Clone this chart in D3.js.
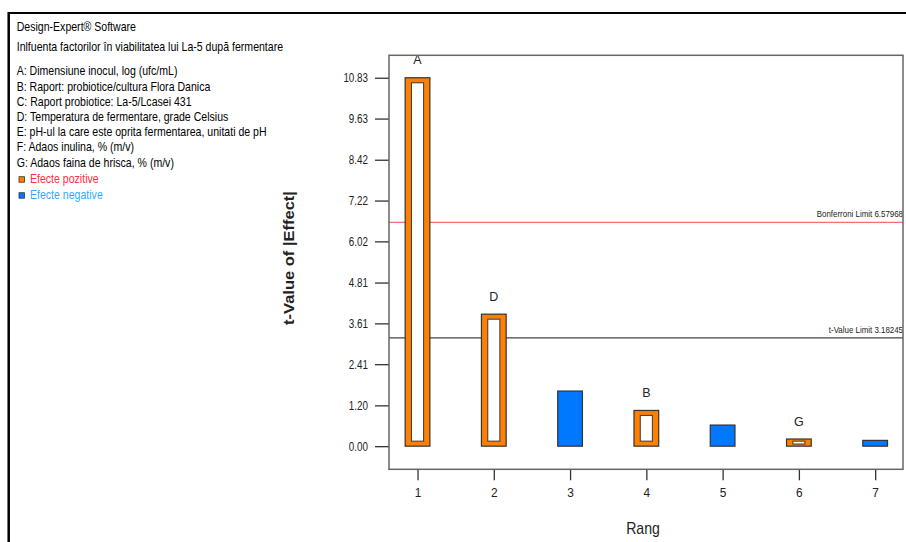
<!DOCTYPE html>
<html><head><meta charset="utf-8">
<script src="https://cdn.jsdelivr.net/npm/d3@7"></script>
<style>body{margin:0;background:#fff}svg{display:block}text{font-family:"Liberation Sans",Arial,sans-serif}</style>
</head><body>
<svg id="c" width="906" height="542"></svg>
<script>
const ranks = [1, 2, 3, 4, 5, 6, 7];
const effects = [10.83, 3.88, 1.62, 1.05, 0.62, 0.21, 0.17];
const signs = ["pos", "pos", "neg", "pos", "neg", "pos", "neg"];
const barLabels = ["A", "D", "", "B", "", "G", ""];
const yTicks = [0, 1.20, 2.41, 3.61, 4.81, 6.02, 7.22, 8.42, 9.63, 10.83];
const limits = [
  {name: "Bonferroni Limit 6.57968", value: 6.57968, color: "#f07070"},
  {name: "t-Value Limit 3.18245", value: 3.18245, color: "#444"}
];
const headerLines = ["Design-Expert® Software", "Inlfuenta factorilor în viabilitatea lui La-5 după fermentare"];
const factorLines = [
  "A: Dimensiune inocul, log (ufc/mL)",
  "B: Raport: probiotice/cultura Flora Danica",
  "C: Raport probiotice: La-5/Lcasei 431",
  "D: Temperatura de fermentare, grade Celsius",
  "E: pH-ul la care este oprita fermentarea, unitati de pH",
  "F: Adaos inulina, % (m/v)",
  "G: Adaos faina de hrisca, % (m/v)"
];
const legendItems = [
  {label: "Efecte pozitive", fill: "#ff8000", color: "#ff2d3d"},
  {label: "Efecte negative", fill: "#0078ff", color: "#33aaff"}
];

const svg = d3.select("#c");
const W = 906, H = 542;
const L = 389, R = 903, T = 55.3, B = 469.3;

// outer frame
svg.append("line").attr("x1", 8).attr("x2", W).attr("y1", 13).attr("y2", 13).attr("stroke", "#000").attr("stroke-width", 2);
svg.append("line").attr("x1", 8.7).attr("x2", 8.7).attr("y1", 12).attr("y2", H).attr("stroke", "#000").attr("stroke-width", 2.5);

// left text
const lt = svg.append("g").attr("transform", "translate(16.7,0) scale(0.88,1)");
lt.selectAll("text.h").data(headerLines).join("text")
  .attr("x", 0).attr("y", (d, i) => 30.7 + i * 20).attr("font-size", 12).attr("fill", "#000").text(d => d);
lt.selectAll("text.f").data(factorLines).join("text")
  .attr("x", 0).attr("y", (d, i) => 75.3 + i * 15.23).attr("font-size", 12).attr("fill", "#000").text(d => d);
const lg = svg.selectAll("g.lg").data(legendItems).join("g")
  .attr("transform", (d, i) => `translate(0,${182.7 + i * 16})`);
lg.append("rect").attr("x", 19).attr("y", -6).attr("width", 5.5).attr("height", 5.5)
  .attr("fill", d => d.fill).attr("stroke", "#333").attr("stroke-width", 0.8);
lg.append("text").attr("transform", "translate(30,0) scale(0.88,1)").attr("font-size", 12)
  .attr("fill", d => d.color).text(d => d.label);

// scales
const x = d3.scaleLinear().domain([0.626, 7.365]).range([L, R]);
const y = d3.scaleLinear().domain([-0.68, 11.49]).range([B, T]);
const bw = 0.324;

// y axis
const ya = svg.append("g").attr("transform", `translate(${L},0)`)
  .call(d3.axisLeft(y).tickValues(yTicks).tickSize(14).tickPadding(7).tickFormat(d => d.toFixed(2)));
ya.select(".domain").remove();
ya.selectAll(".tick line").attr("stroke", "#333").attr("stroke-width", 1.3);
ya.selectAll(".tick text").attr("font-size", 12).attr("fill", "#222")
  .attr("x", -21 / 0.82).attr("transform", "scale(0.82,1)");

// x axis
const xa = svg.append("g").attr("transform", `translate(0,${B})`)
  .call(d3.axisBottom(x).tickValues(ranks).tickSize(11).tickPadding(7).tickFormat(d3.format("d")));
xa.select(".domain").remove();
xa.selectAll(".tick line").attr("stroke", "#333").attr("stroke-width", 1.3);
xa.selectAll(".tick text").attr("font-size", 13.5).attr("fill", "#222")
  .attr("transform", "scale(0.88,1)");

// limit lines
limits.forEach(l => {
  svg.append("line").attr("x1", L).attr("x2", R).attr("y1", y(l.value)).attr("y2", y(l.value))
    .attr("stroke", l.color).attr("stroke-width", 1.3);
  svg.append("text").attr("transform", `translate(${R},${y(l.value) - 5.4}) scale(0.88,1)`)
    .attr("text-anchor", "end").attr("font-size", 9).attr("fill", "#222").text(l.name);
});

// bars
const data = ranks.map((r, i) => ({r, v: effects[i], s: signs[i], lab: barLabels[i]}));
const bars = svg.append("g");
data.forEach(d => {
  const x0 = x(d.r - bw / 2), x1 = x(d.r + bw / 2);
  const y0 = y(d.v), y1 = y(0);
  const h = y1 - y0;
  bars.append("rect").attr("x", x0).attr("y", y0).attr("width", x1 - x0).attr("height", h)
    .attr("fill", d.s === "pos" ? "#ff8000" : "#0078ff").attr("stroke", "#333").attr("stroke-width", 1.2);
  if (d.s === "pos") {
    const iv = Math.min(5, h * 0.3), ih = 6.3;
    bars.append("rect").attr("x", x0 + ih).attr("y", y0 + iv).attr("width", x1 - x0 - 2 * ih)
      .attr("height", Math.max(h - 2 * iv, 0.5))
      .attr("fill", "#fff").attr("stroke", "#444").attr("stroke-width", 1.1);
  }
  if (d.lab) {
    bars.append("text").attr("x", x(d.r)).attr("y", y0 - 13.5).attr("text-anchor", "middle")
      .attr("font-size", 12.5).attr("fill", "#222").text(d.lab);
  }
});

// plot border
svg.append("rect").attr("x", L).attr("y", T).attr("width", R - L).attr("height", B - T)
  .attr("fill", "none").attr("stroke", "#666").attr("stroke-width", 1.5);

// axis titles
svg.append("text").attr("transform", `translate(643,534) scale(0.88,1)`).attr("text-anchor", "middle")
  .attr("font-size", 16).attr("fill", "#222").text("Rang");
svg.append("text").attr("transform", "translate(294,258) scale(0.9,1) rotate(-90)").attr("text-anchor", "middle")
  .attr("font-size", 16.5).attr("font-weight", "bold").attr("fill", "#222").text("t-Value of |Effect|");
</script>
</body></html>
